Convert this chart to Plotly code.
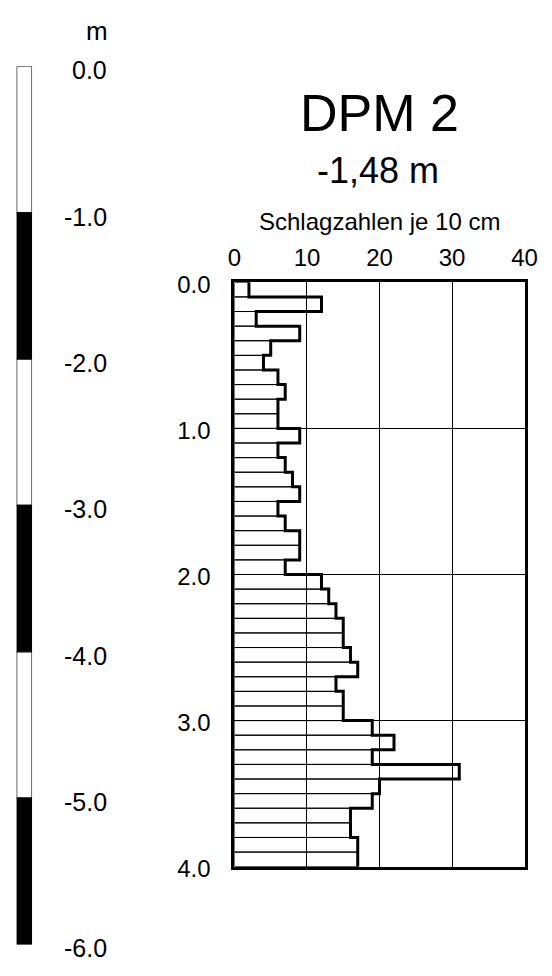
import plotly.graph_objects as go

W, H = 552, 976
FONT = "Liberation Sans, Arial, sans-serif"

# DPM blow counts per 10 cm
depth_from = [0.0, 0.1, 0.2, 0.3, 0.4, 0.5, 0.6, 0.7, 0.8, 0.9,
              1.0, 1.1, 1.2, 1.3, 1.4, 1.5, 1.6, 1.7, 1.8, 1.9,
              2.0, 2.1, 2.2, 2.3, 2.4, 2.5, 2.6, 2.7, 2.8, 2.9,
              3.0, 3.1, 3.2, 3.3, 3.4, 3.5, 3.6, 3.7, 3.8, 3.9]
depth_end = 4.0
blows = [2, 12, 3, 9, 5, 4, 6, 7, 6, 6,
         9, 6, 7, 8, 9, 6, 7, 9, 9, 7,
         12, 13, 14, 15, 15, 16, 17, 14, 15, 15,
         19, 22, 19, 31, 20, 19, 16, 16, 17, 17]
x_ticks = [0, 10, 20, 30, 40]
y_ticks = [0.0, 1.0, 2.0, 3.0, 4.0]

# Left elevation scale
scale_tops = [0, -1, -2, -3, -4, -5]
scale_colors = ["white", "black", "white", "black", "white", "black"]
scale_labels = [0.0, -1.0, -2.0, -3.0, -4.0, -5.0, -6.0]

title = "DPM 2"
subtitle = "-1,48 m"
axis_title = "Schlagzahlen je 10 cm"

def px_x(p):
    return p / W

def px_y(p):
    return 1 - p / H

fig = go.Figure()

# Right chart: bars (transparent fill, thin outlines)
fig.add_trace(go.Bar(
    x=blows,
    y=[d + 0.05 for d in depth_from],
    orientation="h",
    width=0.1,
    base=0,
    marker=dict(color="rgba(0,0,0,0)", line=dict(color="black", width=1)),
    xaxis="x", yaxis="y",
    showlegend=False, hoverinfo="skip",
))

# Thick step outline
fig.add_trace(go.Scatter(
    x=blows + [blows[-1]],
    y=depth_from + [depth_end],
    mode="lines",
    line=dict(color="black", width=3, shape="vh"),
    xaxis="x", yaxis="y",
    showlegend=False, hoverinfo="skip", cliponaxis=False,
))

# Left scale bar
fig.add_trace(go.Bar(
    x=[0] * len(scale_tops),
    y=[-1] * len(scale_tops),
    base=scale_tops,
    width=1,
    marker=dict(color=scale_colors, line=dict(color="black", width=1.2)),
    xaxis="x2", yaxis="y2",
    showlegend=False, hoverinfo="skip",
))

annotations = []
for v in scale_labels:
    annotations.append(dict(
        x=px_x(106), xref="paper", xanchor="right",
        y=v, yref="y2", yanchor="middle", yshift=-4,
        text=f"{v:.1f}", showarrow=False,
        font=dict(family=FONT, size=25, color="black"),
    ))
annotations.append(dict(
    x=px_x(107), xref="paper", xanchor="right",
    y=px_y(20), yref="paper", yanchor="middle",
    text="m", showarrow=False,
    font=dict(family=FONT, size=26, color="black"),
))
annotations.append(dict(
    x=px_x(386), xref="paper", xanchor="center",
    y=px_y(104), yref="paper", yanchor="middle",
    text=title, showarrow=False,
    font=dict(family=FONT, size=52, color="black"),
))
annotations.append(dict(
    x=px_x(385), xref="paper", xanchor="center",
    y=px_y(163), yref="paper", yanchor="middle",
    text=subtitle, showarrow=False,
    font=dict(family=FONT, size=36, color="black"),
))
annotations.append(dict(
    x=px_x(386), xref="paper", xanchor="center",
    y=px_y(215), yref="paper", yanchor="middle",
    text=axis_title, showarrow=False,
    font=dict(family=FONT, size=24, color="black"),
))

fig.update_layout(
    width=W, height=H,
    autosize=False,
    margin=dict(l=0, r=0, t=0, b=0),
    paper_bgcolor="white",
    plot_bgcolor="rgba(0,0,0,0)",
    barmode="overlay",
    font=dict(family=FONT, color="black"),
    annotations=annotations,
    xaxis=dict(
        domain=[px_x(236), px_x(537)],
        range=[0, 40],
        side="top",
        tickvals=x_ticks,
        ticktext=[str(t) for t in x_ticks],
        tickfont=dict(family=FONT, size=24, color="black"),
        ticks="",
        ticklabelstandoff=4,
        showgrid=True, gridcolor="black", gridwidth=1,
        showline=True, linecolor="black", linewidth=3, mirror=True,
        zeroline=False,
        anchor="y",
        fixedrange=True,
    ),
    yaxis=dict(
        domain=[px_y(879), px_y(278)],
        range=[depth_end, 0],
        tickvals=y_ticks,
        ticktext=[f"{t:.1f}" for t in y_ticks],
        tickfont=dict(family=FONT, size=24, color="black"),
        ticks="",
        ticklabelstandoff=16,
        ticklabelshift=-2,
        showgrid=True, gridcolor="black", gridwidth=1,
        showline=True, linecolor="black", linewidth=3, mirror=True,
        zeroline=False,
        anchor="x",
        fixedrange=True,
    ),
    xaxis2=dict(
        domain=[px_x(10), px_x(26)],
        range=[-0.5, 0.5],
        visible=False,
        anchor="y2",
        fixedrange=True,
    ),
    yaxis2=dict(
        domain=[px_y(959), px_y(56)],
        range=[-6, 0],
        visible=False,
        anchor="x2",
        fixedrange=True,
    ),
)

fig.write_html(
    "out.html",
    config={"displayModeBar": False, "staticPlot": True},
    post_script="document.body.style.margin='0';document.body.style.overflow='hidden';",
)
